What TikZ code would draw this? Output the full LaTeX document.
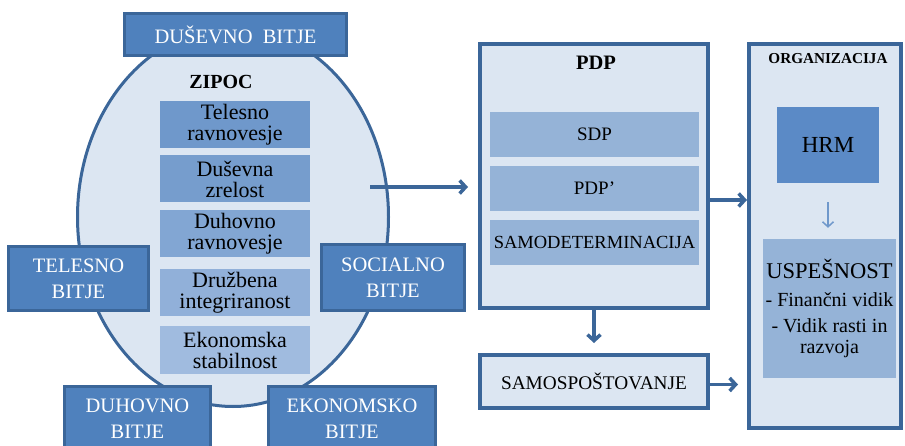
\documentclass[tikz,border=0pt]{standalone}
\usepackage{fontspec}
\setmainfont{Liberation Serif}
\usetikzlibrary{shapes.geometric,arrows.meta}
\definecolor{darkbox}{HTML}{4F81BD}
\definecolor{boxline}{HTML}{3B6699}
\definecolor{lightfill}{HTML}{DCE6F2}
\definecolor{midfill}{HTML}{95B3D7}
\definecolor{hrmfill}{HTML}{5B8AC6}
\definecolor{inA}{HTML}{6F98CB}
\definecolor{inB}{HTML}{769DCD}
\definecolor{inC}{HTML}{82A6D3}
\definecolor{inD}{HTML}{91B0D9}
\definecolor{inE}{HTML}{A0BBDF}

\begin{document}
\begin{tikzpicture}[x=1pt,y=-1pt]
        \tikzstyle{every node}+=[inner sep=0pt]
        \tikzstyle{bitje}=[draw=boxline, fill=darkbox, line width=3pt, text=white, align=center, font=\fontsize{20.5}{26}\selectfont]
        \tikzstyle{inbox}=[align=center, minimum width=150pt, minimum height=47pt, font=\fontsize{22}{21}\selectfont]
        \tikzstyle{frame}=[draw=boxline, fill=lightfill, line width=4pt]
        \tikzstyle{flow}=[draw=boxline, line width=3.5pt, -{Straight Barb[length=6pt,width=13pt]}]
        \clip (0,0) rectangle (905,446);
        \fill [white] (0,0) rectangle (905,446);
        % ZIPOC
        \node [ellipse, draw=boxline, fill=lightfill, line width=3pt, minimum width=311pt, minimum height=379pt] (zipoc) at (233,217) {};
        \node [font=\bfseries\fontsize{20}{24}\selectfont] (zipoclabel) at (221,82) {ZIPOC};
        \node [inbox, fill=inA] (telr) at (235,124.5) {Telesno\\ravnovesje};
        \node [inbox, fill=inB] (dusz) at (235,179) {Duševna\\zrelost};
        \node [inbox, fill=inC] (duhr) at (235,234) {Duhovno\\ravnovesje};
        \node [inbox, fill=inD] (druz) at (235,292.5) {Družbena\\integriranost};
        \node [inbox, fill=inE] (ekos) at (235,350) {Ekonomska\\stabilnost};
        \node [bitje, minimum width=222pt, minimum height=42pt] (dusevno) at (235.5,34.5) {DUŠEVNO\ \ BITJE};
        \node [bitje, minimum width=140pt, minimum height=64pt] (telesno) at (78.5,278.5) {TELESNO\\BITJE};
        \node [bitje, minimum width=143pt, minimum height=66pt] (socialno) at (393,277.5) {SOCIALNO\\BITJE};
        \node [bitje, minimum width=146pt, minimum height=64pt] (duhovno) at (137.5,418.5) {DUHOVNO\\BITJE};
        \node [bitje, minimum width=167pt, minimum height=64pt] (ekonomsko) at (352,418.5) {EKONOMSKO\\BITJE};
        % PDP
        \node [frame, minimum width=228pt, minimum height=264pt] (pdp) at (594,176) {};
        \node [font=\bfseries\fontsize{20.5}{24}\selectfont] (pdplabel) at (596,63) {PDP};
        \node [inbox, fill=midfill, minimum width=209pt, minimum height=45pt, font=\fontsize{19}{21}\selectfont] (sdp) at (594.5,134.5) {SDP};
        \node [inbox, fill=midfill, minimum width=209pt, minimum height=45pt, font=\fontsize{19}{21}\selectfont] (pdpc) at (594.5,188.5) {PDP'};
        \node [inbox, fill=midfill, minimum width=209pt, minimum height=45pt, font=\fontsize{18.5}{21}\selectfont] (samodet) at (594.5,242.5) {SAMODETERMINACIJA};
        \node [frame, minimum width=228pt, minimum height=53pt, font=\fontsize{19.3}{21}\selectfont] (samosp) at (594,381.5) {SAMOSPOŠTOVANJE};
        % ORGANIZACIJA
        \node [frame, minimum width=152pt, minimum height=384pt] (org) at (825,236) {};
        \node [font=\bfseries\fontsize{15.2}{18}\selectfont] (orglabel) at (828,59) {ORGANIZACIJA};
        \node [fill=hrmfill, minimum width=102pt, minimum height=76pt, font=\fontsize{23}{26}\selectfont] (hrm) at (828,145) {HRM};
        \node [fill=midfill, minimum width=133pt, minimum height=139pt, align=center, font=\fontsize{20}{21}\selectfont] (uspesnost) at (829.5,308.5)
              {{\fontsize{22.5}{26}\selectfont USPEŠNOST}\\[7pt]- Finančni vidik\\[5pt]- Vidik rasti in\\razvoja};
        % connectors
        \coordinate (zout) at (370,187);
        \coordinate (pdpout) at (710,200);
        \draw [flow, shorten >=10pt] (zout) -- (zout -| pdp.west);
        \draw [flow] (pdpout) -- (pdpout -| org.west);
        \draw [flow, shorten >=10pt] (pdp.south) -- (samosp.north);
        \draw [flow, shorten >=9pt] ([yshift=-3pt]samosp.east) -- ([yshift=-3pt]samosp.east -| org.west);
        \draw [draw=inA, line width=1.5pt, -{Straight Barb[length=5pt,width=11pt]}, shorten <=19pt, shorten >=11pt] (hrm.south) -- (hrm.south |- uspesnost.north);
\end{tikzpicture}
\end{document}
